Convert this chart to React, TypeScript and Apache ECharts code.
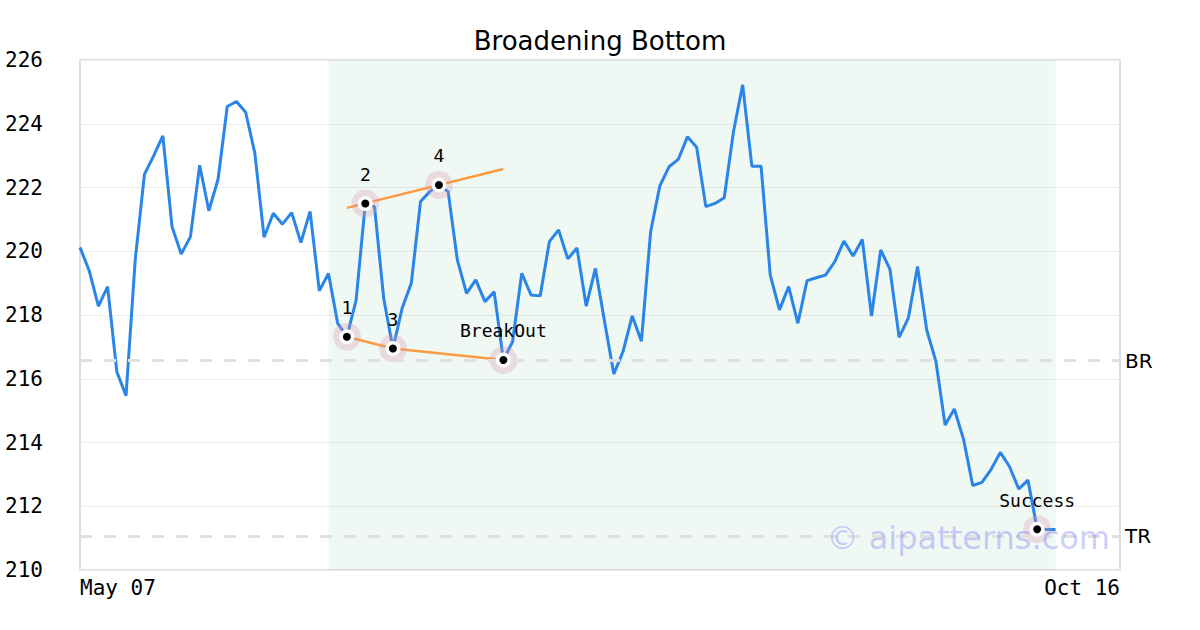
import React, { useEffect, useRef } from "react";
import * as echarts from "echarts";

const TITLE = "Broadening Bottom";
const X_LABELS = ["May 07", "Oct 16"];
const X_MAX = 113;
const Y_MIN = 210;
const Y_MAX = 226;
const Y_STEP = 2;

const prices = [
  220.12, 219.39, 218.28, 218.89, 216.22, 215.47, 219.73, 222.41, 222.99, 223.62,
  220.77, 219.91, 220.46, 222.7, 221.27, 222.26, 224.54, 224.7, 224.36, 223.07,
  220.44, 221.19, 220.85, 221.21, 220.27, 221.25, 218.76, 219.3, 217.74, 217.32,
  218.47, 221.5, 221.4, 218.52, 216.95, 218.21, 219.0, 221.56, 221.87, 222.08,
  221.87, 219.73, 218.68, 219.1, 218.42, 218.73, 216.59, 217.16, 219.31, 218.63,
  218.6, 220.3, 220.67, 219.76, 220.1, 218.28, 219.46, 217.79, 216.15, 216.85,
  217.97, 217.18, 220.61, 222.05, 222.65, 222.88, 223.59, 223.26, 221.4, 221.5,
  221.68, 223.75, 225.22, 222.67, 222.67, 219.25, 218.16, 218.89, 217.74, 219.08,
  219.17, 219.25, 219.67, 220.32, 219.85, 220.37, 217.97, 220.04, 219.44, 217.3,
  217.9, 219.52, 217.53, 216.54, 214.55, 215.05, 214.1, 212.65, 212.75, 213.16,
  213.69, 213.24, 212.54, 212.82, 211.28, 211.27, 211.27,
];

const pointIdx = [29, 31, 34, 39, 46, 104];
const pointLabels = ["1", "2", "3", "4", "BreakOut", "Success"];

const upperLineIdx = [29, 46];
const upperLineVals = [221.36, 222.58];
const lowerLineIdx = [29, 34, 46];

const patternStart = 27;
const patternEnd = 106;

const levelNames = ["BR", "TR"];
const levelValues = [216.57, 211.07];

export default function App() {
  const ref = useRef<HTMLDivElement>(null);
  useEffect(() => {
    if (!ref.current) return;
    const chart = echarts.init(ref.current, undefined, { renderer: "svg" });
    const lineData = prices.map((v, i) => [i, v]);
    const pts = pointIdx.map((i) => [i, prices[i]]);
    const mono = "DejaVu Sans Mono";
    const sans = "DejaVu Sans";
    chart.setOption({
      animation: false,
      backgroundColor: "#ffffff",
      title: {
        text: TITLE,
        left: "center",
        top: 23,
        textStyle: { fontFamily: sans, fontSize: 26, fontWeight: "normal", color: "#000" },
      },
      grid: {
        left: 80,
        right: 80,
        top: 60,
        bottom: 60,
        show: true,
        borderColor: "#dddddd",
        borderWidth: 2,
        backgroundColor: "transparent",
      },
      xAxis: {
        type: "value",
        min: 0,
        max: X_MAX,
        interval: X_MAX,
        axisLine: { show: false },
        axisTick: { show: false },
        splitLine: { show: false },
        axisLabel: {
          fontFamily: mono,
          fontSize: 21,
          color: "#000",
          margin: 7,
          alignMinLabel: "left",
          alignMaxLabel: "right",
          formatter: (v: number) => (v === 0 ? X_LABELS[0] : X_LABELS[1]),
        },
      },
      yAxis: {
        type: "value",
        min: Y_MIN,
        max: Y_MAX,
        interval: Y_STEP,
        axisLine: { show: false },
        axisTick: { show: false },
        splitLine: { show: true, lineStyle: { color: "#ececec", width: 1 } },
        axisLabel: { fontFamily: mono, fontSize: 21, color: "#000", margin: 37 },
      },
      graphic: [
        {
          type: "text",
          right: 90,
          top: 522,
          z: 100,
          style: {
            text: "© aipatterns.com",
            fontFamily: sans,
            fontSize: 32,
            fill: "rgba(100,100,245,0.32)",
          },
        },
      ],
      series: [
        {
          type: "line",
          data: lineData,
          showSymbol: false,
          symbol: "none",
          lineStyle: { color: "#2a85e8", width: 3 },
          z: 2,
          markArea: {
            silent: true,
            itemStyle: { color: "rgba(60,160,120,0.08)" },
            data: [[{ xAxis: patternStart }, { xAxis: patternEnd }]],
          },
          markLine: {
            silent: true,
            symbol: "none",
            lineStyle: { color: "#e0e0e0", width: 3, type: [12, 12] },
            label: {
              position: "end",
              distance: 5,
              fontFamily: sans,
              fontSize: 20,
              color: "#000",
              formatter: (p: any) => p.name,
            },
            data: levelValues.map((v, i) => ({ yAxis: v, name: levelNames[i] })),
          },
        },
        {
          type: "line",
          data: upperLineIdx.map((i, k) => [i, upperLineVals[k]]),
          symbol: "none",
          lineStyle: { color: "#fb9a40", width: 2.5 },
          z: 3,
        },
        {
          type: "line",
          data: lowerLineIdx.map((i) => [i, prices[i]]),
          symbol: "none",
          lineStyle: { color: "#fb9a40", width: 2.5 },
          z: 3,
        },
        {
          type: "scatter",
          data: pts,
          symbolSize: 28,
          itemStyle: { color: "rgba(215,150,170,0.3)", opacity: 1 },
          z: 4,
          label: {
            show: true,
            position: "top",
            distance: 6,
            fontFamily: mono,
            fontSize: 18,
            color: "#000",
            formatter: (p: any) => pointLabels[p.dataIndex],
          },
        },
        {
          type: "scatter",
          data: pts,
          symbolSize: 15,
          itemStyle: { color: "#ffffff", opacity: 1 },
          z: 5,
        },
        {
          type: "scatter",
          data: pts,
          symbolSize: 8,
          itemStyle: { color: "#000000", opacity: 1 },
          z: 6,
        },
      ],
    });
    return () => chart.dispose();
  }, []);
  return (
    <div
      ref={ref}
      style={{ position: "fixed", left: 0, top: 0, width: 1200, height: 630 }}
    />
  );
}
